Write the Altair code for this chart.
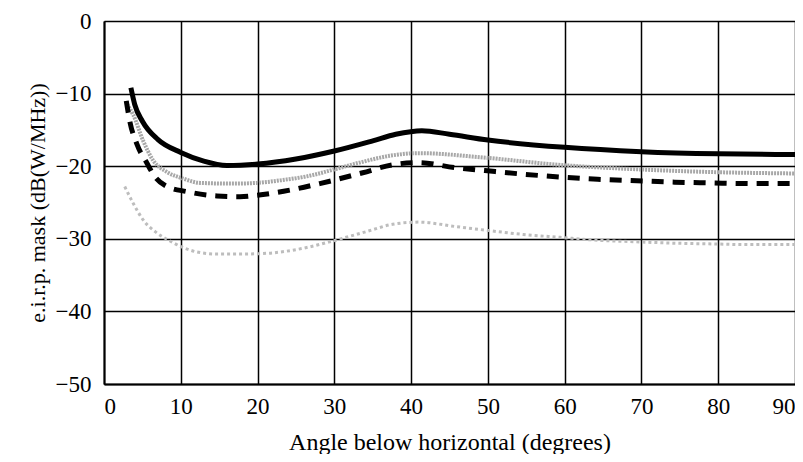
import altair as alt
import pandas as pd

# Series values (angle in degrees, e.i.r.p. mask in dB(W/MHz))
solid_x = [3.5, 4.0, 5.0, 7.0, 10.0, 13.0, 16.0, 20.0, 25.0, 30.0, 35.0, 38.0, 41.4, 45.0, 50.0, 60.0, 70.0, 80.0, 90.0]
solid_y = [-9.2, -11.5, -13.8, -16.3, -18.1, -19.3, -19.9, -19.7, -19.0, -17.9, -16.5, -15.6, -15.1, -15.6, -16.4, -17.4, -18.0, -18.3, -18.4]

dashed_x = [2.9, 3.4, 4.3, 5.6, 6.6, 8.2, 10.8, 14.7, 17.7, 19.9, 24.2, 28.1, 33.7, 37.6, 41.0, 45.7, 49.6, 54.6, 59.6, 64.3, 69.4, 74.3, 79.1, 84.1, 90.0]
dashed_y = [-11.0, -14.0, -17.0, -19.6, -21.4, -22.8, -23.5, -24.1, -24.2, -24.0, -23.3, -22.4, -20.9, -19.8, -19.5, -20.2, -20.6, -21.1, -21.5, -21.8, -22.0, -22.2, -22.3, -22.4, -22.4]

gray_hi_x = [3.0, 3.8, 5.1, 6.4, 8.2, 10.3, 12.5, 16.8, 19.9, 23.3, 26.4, 29.8, 33.3, 37.6, 41.0, 49.4, 59.1, 68.9, 78.9, 90.0]
gray_hi_y = [-11.5, -12.9, -16.5, -19.2, -20.8, -21.7, -22.3, -22.4, -22.3, -21.9, -21.4, -20.5, -19.5, -18.5, -18.2, -18.8, -19.8, -20.4, -20.8, -21.0]

gray_lo_x = [2.7, 3.8, 5.1, 6.9, 8.6, 10.3, 12.5, 14.7, 17.7, 21.2, 23.8, 26.4, 29.8, 34.2, 37.6, 41.0, 45.7, 49.6, 54.6, 59.4, 64.3, 69.1, 74.1, 79.1, 84.1, 90.0]
gray_lo_y = [-22.8, -25.1, -27.4, -29.2, -30.3, -31.2, -31.9, -32.1, -32.1, -32.0, -31.7, -31.2, -30.3, -29.0, -28.0, -27.7, -28.3, -28.8, -29.4, -29.8, -30.2, -30.4, -30.6, -30.7, -30.8, -30.8]

x_ticks = [0, 10, 20, 30, 40, 50, 60, 70, 80, 90]
y_ticks = [0, -10, -20, -30, -40, -50]

FONT = "Liberation Serif"

xs = alt.Scale(domain=[0, 90], nice=False)
ys = alt.Scale(domain=[-50, 0], nice=False)

x_axis = alt.Axis(values=x_ticks, title="Angle below horizontal (degrees)", grid=True,
                  gridColor="black", gridWidth=1.5, gridOpacity=1, ticks=False,
                  labelPadding=11, titlePadding=12, labelFontSize=23, titleFontSize=24,
                  labelFont=FONT, titleFont=FONT, titleFontWeight="normal",
                  domainColor="black", domainWidth=2, labelColor="black", titleColor="black")
y_axis = alt.Axis(values=y_ticks, title="e.i.r.p. mask (dB(W/MHz))", grid=True,
                  gridColor="black", gridWidth=1.5, gridOpacity=1, ticks=False,
                  labelPadding=13, titlePadding=6, labelFontSize=23, titleFontSize=22,
                  labelFont=FONT, titleFont=FONT, titleFontWeight="normal",
                  domainColor="black", domainWidth=2, labelColor="black", titleColor="black")


def line(xv, yv, color, width, dash, axes=False):
    df = pd.DataFrame({"x": xv, "y": yv})
    kw = {}
    if dash:
        kw["strokeDash"] = dash
    m = alt.Chart(df).mark_line(color=color, strokeWidth=width, interpolate="monotone",
                                strokeCap="butt", **kw)
    if axes:
        return m.encode(x=alt.X("x:Q", scale=xs, axis=x_axis),
                        y=alt.Y("y:Q", scale=ys, axis=y_axis))
    return m.encode(x=alt.X("x:Q", scale=xs), y=alt.Y("y:Q", scale=ys))


chart = alt.layer(
    line(gray_lo_x, gray_lo_y, "#bdbdbd", 3, [3, 3], axes=True),
    line(gray_hi_x, gray_hi_y, "#a8a8a8", 4, [2, 1]),
    line(dashed_x, dashed_y, "black", 5, [12, 9]),
    line(solid_x, solid_y, "black", 5, None),
).properties(
    width=691, height=363,
    autosize=alt.AutoSizeParams(type="none"),
    padding={"left": 96, "top": 13, "right": 0, "bottom": 70},
).configure_view(stroke="black", strokeWidth=2).configure(background="white")

chart.save("out.html", embed_options={"renderer": "svg", "actions": False})
